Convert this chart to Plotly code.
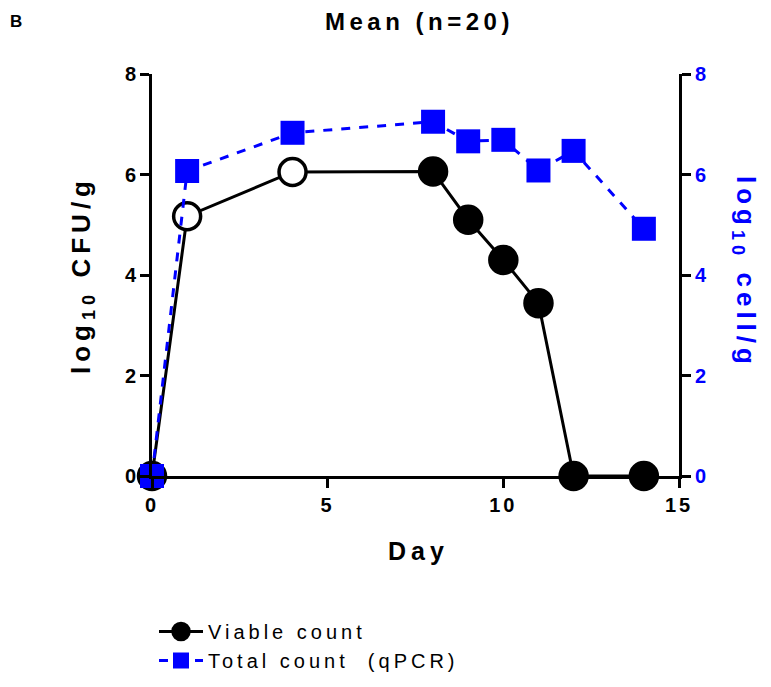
import plotly.graph_objects as go

days = [0, 1, 4, 8, 9, 10, 11, 12, 14]
viable = [0, 5.17, 6.05, 6.06, 5.10, 4.30, 3.44, 0, 0]
viable_open = [False, True, True, False, False, False, False, False, False]
qpcr = [0, 6.07, 6.83, 7.05, 6.66, 6.69, 6.08, 6.47, 4.92]

x_ticks = [0, 5, 10, 15]
y_ticks = [0, 2, 4, 6, 8]

FONT = "Liberation Sans"
BLUE = "#0000FF"

W, H = 771, 687
OFF = 8  # page body margin
X0, X1, Y0, Y1 = 152, 679, 74, 476
L, T = X0 - OFF, Y0 - OFF
R, B = W - (X1 - OFF), H - (Y1 - OFF)
PW, PH = X1 - X0, Y1 - Y0


def px(x):
    return (x - X0) / PW


def py(y):
    return (Y1 - y) / PH


def sp(text, ls):
    return f'<span style="letter-spacing:{ls}px">{text}</span>'


fig = go.Figure()

fig.add_trace(go.Scatter(
    x=days, y=qpcr, name=sp("Total count  (qPCR)", 4), yaxis="y2",
    mode="lines+markers",
    line=dict(color=BLUE, width=3, dash="dash"),
    marker=dict(symbol="square", size=24, color=BLUE),
    cliponaxis=False, legendrank=2,
))

fig.add_trace(go.Scatter(
    x=days, y=viable, name=sp("Viable count", 4),
    mode="lines+markers",
    line=dict(color="black", width=3),
    marker=dict(symbol="circle", size=27,
                color=["white" if o else "black" for o in viable_open],
                line=dict(color="black", width=3.5)),
    cliponaxis=False, legendrank=1,
))

axis_common = dict(
    showline=True, linewidth=3, linecolor="black",
    ticks="outside", ticklen=9, tickwidth=3, tickcolor="black",
    showgrid=False, zeroline=False, automargin=False,
)

fig.update_layout(
    width=W, height=H,
    margin=dict(l=L, r=R, t=T, b=B, autoexpand=False),
    paper_bgcolor="white", plot_bgcolor="white",
    font=dict(family=FONT, color="black"),
    showlegend=True,
    legend=dict(x=px(154), y=py(612), xanchor="left", yanchor="top",
                font=dict(family=FONT, size=20, color="black"),
                tracegroupgap=7, itemwidth=44),
    xaxis=dict(range=[0, 15], tickvals=x_ticks,
               ticktext=[sp(str(v), 3) for v in x_ticks],
               tickfont=dict(family=FONT, size=20, color="black", weight="bold"),
               **axis_common),
    yaxis=dict(range=[0, 8], tickvals=y_ticks,
               tickfont=dict(family=FONT, size=20, color="black", weight="bold"),
               **axis_common),
    yaxis2=dict(range=[0, 8], tickvals=y_ticks, overlaying="y", side="right",
                tickfont=dict(family=FONT, size=20, color=BLUE, weight="bold"),
                **axis_common),
    annotations=[
        dict(text="<b>" + sp("Mean (n=20)", 4.5) + "</b>", x=px(419), y=py(22),
             font=dict(family=FONT, size=24, color="black")),
        dict(text="<b>B</b>", x=px(16), y=py(22),
             font=dict(family=FONT, size=17, color="black")),
        dict(text="<b>" + sp("Day", 5) + "</b>", x=px(418), y=py(551),
             font=dict(family=FONT, size=25, color="black")),
        dict(text="<b>" + sp("log<sub>10</sub> CFU/g", 5) + "</b>", x=px(82), y=py(275),
             textangle=-90, font=dict(family=FONT, size=26, color="black")),
        dict(text="<b>" + sp("log<sub>10</sub> cell/g", 5) + "</b>", x=px(745), y=py(272),
             textangle=90, font=dict(family=FONT, size=26, color=BLUE)),
    ],
)
fig.update_annotations(xref="paper", yref="paper", showarrow=False,
                       xanchor="center", yanchor="middle")

fig.write_html("out.html")
